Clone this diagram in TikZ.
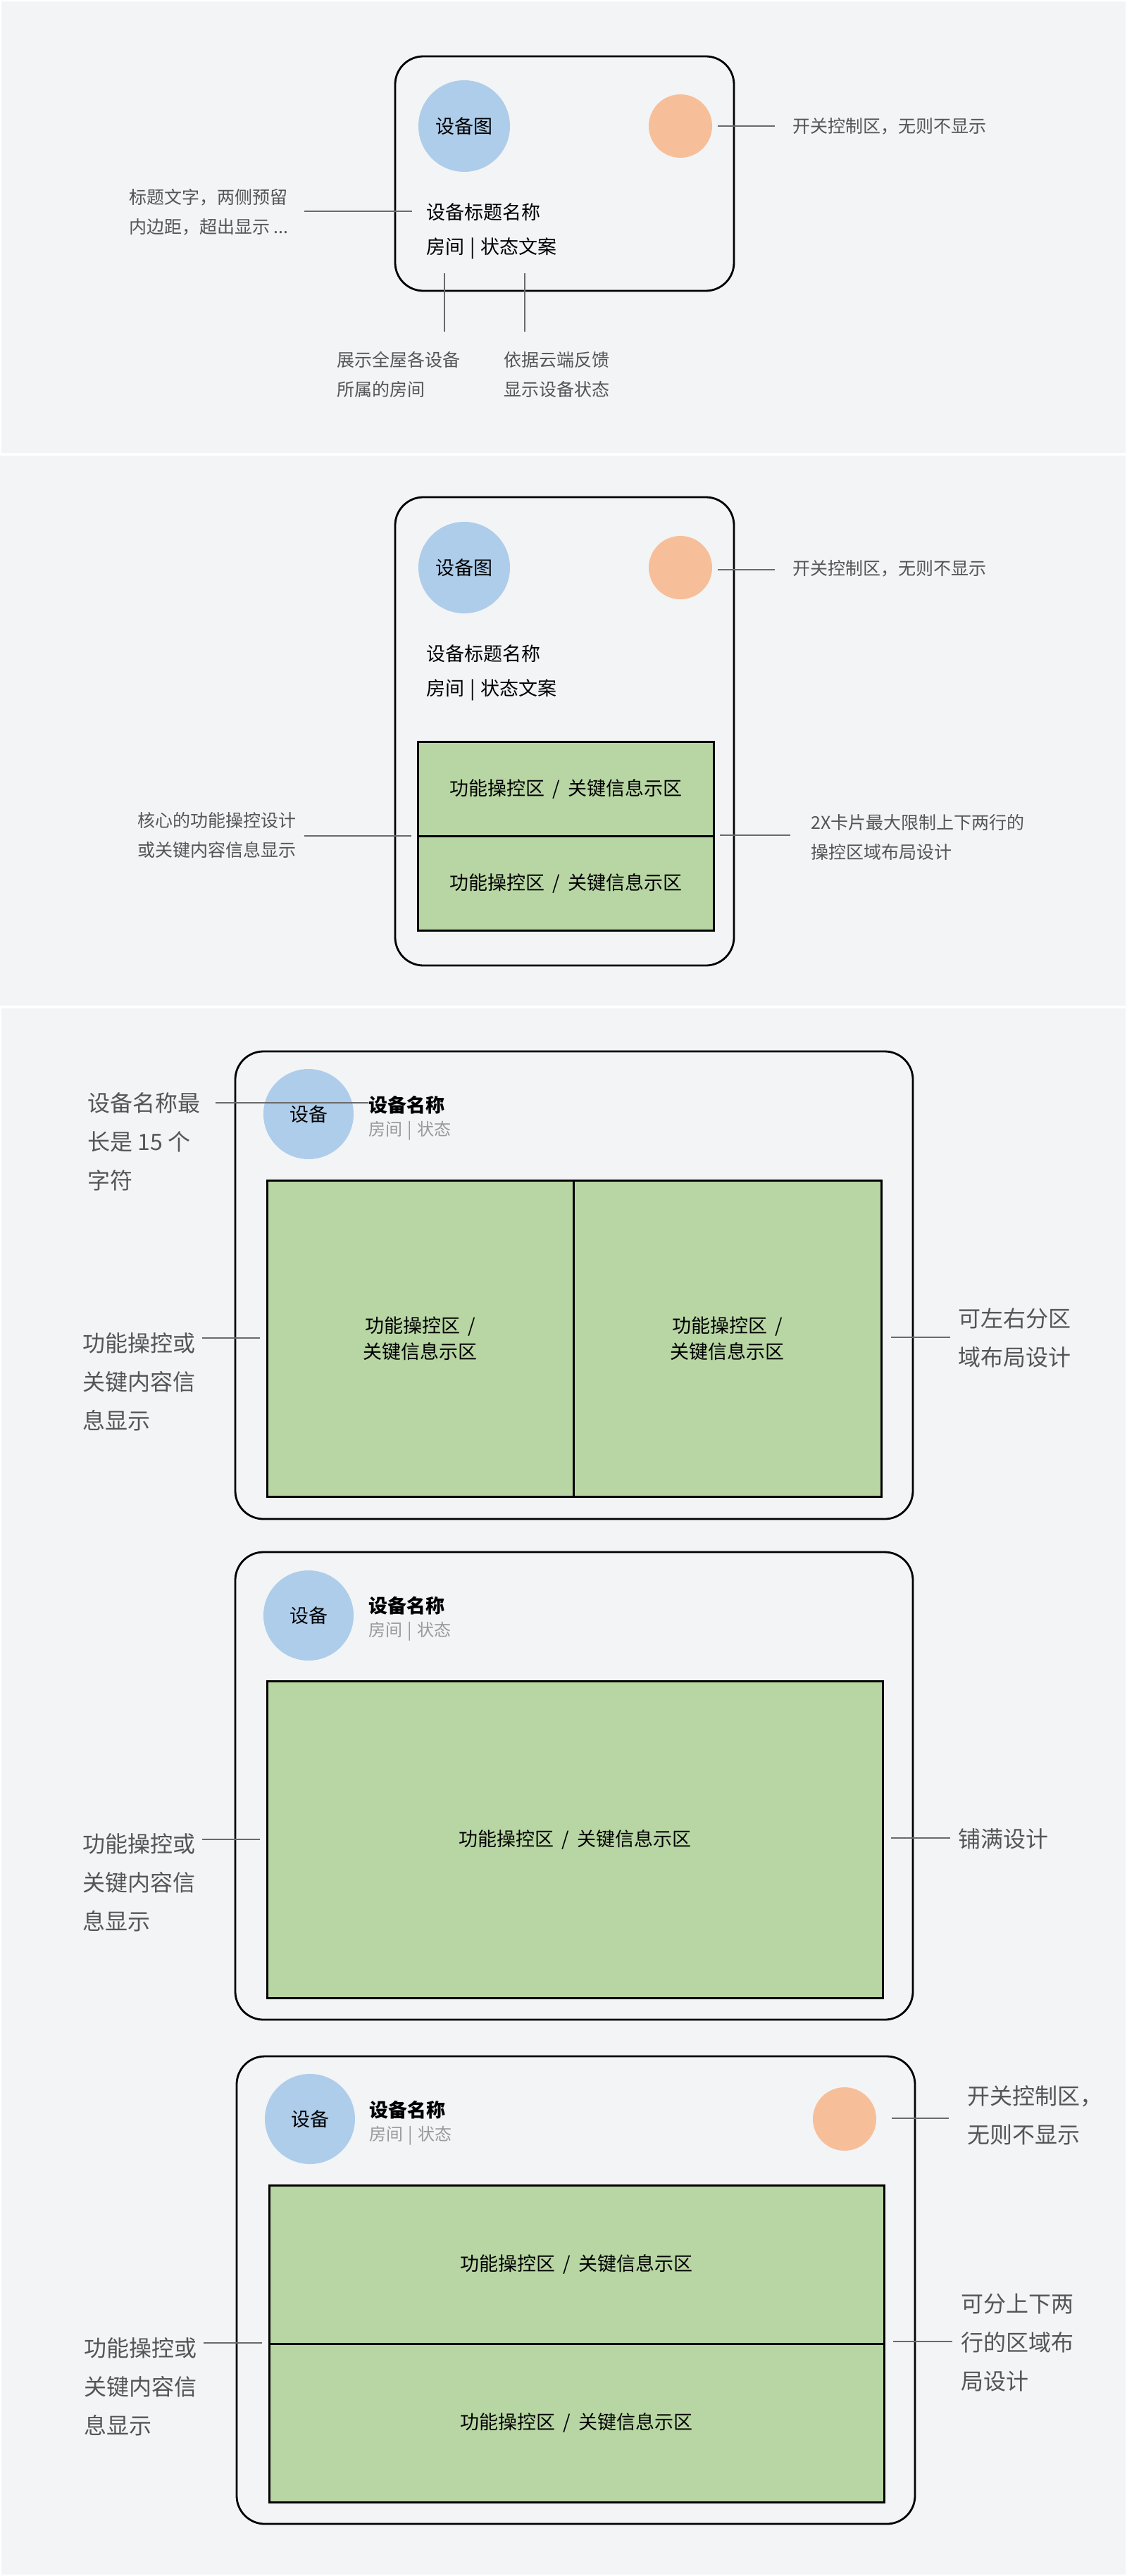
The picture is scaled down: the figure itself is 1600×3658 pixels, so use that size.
\documentclass[tikz,border=0pt]{standalone}
\usepackage{fontspec}
\newfontfamily\cjk{Noto Sans CJK SC}
\definecolor{bgc}{HTML}{F3F4F6}
\definecolor{bluec}{HTML}{AECDEA}
\definecolor{orangec}{HTML}{F7BF99}
\definecolor{greenc}{HTML}{B8D6A3}
\definecolor{annc}{HTML}{555555}
\definecolor{linec}{HTML}{6A6A6A}
\definecolor{subc}{HTML}{9A9A9A}
\newcommand{\mysls}{\hspace{0.42em}/\hspace{0.42em}}
\newcommand{\myvsep}{\hspace{0.3em}|\hspace{0.3em}}
\tikzset{
  card/.style={draw=black, line width=2.8pt, rounded corners=40pt},
  bluedot/.style={circle, fill=bluec, inner sep=0pt, minimum size=130pt, text=black, font=\cjk\fontsize{27}{32}\selectfont},
  smalldot/.style={circle, fill=bluec, inner sep=0pt, minimum size=128pt, text=black, font=\cjk\fontsize{27}{32}\selectfont},
  orangedot/.style={circle, fill=orangec, inner sep=0pt, minimum size=90pt},
  title/.style={anchor=west, inner sep=0pt, text=black, font=\cjk\fontsize{27}{32}\selectfont},
  btitle/.style={anchor=west, inner sep=0pt, text=black, font=\cjk\bfseries\fontsize{27}{32}\selectfont},
  subtitle/.style={anchor=west, inner sep=0pt, text=subc, font=\cjk\fontsize{24}{30}\selectfont},
  ann/.style={anchor=west, align=left, inner sep=0pt, text=annc, font=\cjk\fontsize{25}{42}\selectfont},
  bigann/.style={anchor=west, align=left, inner sep=0pt, text=annc, font=\cjk\fontsize{32}{55}\selectfont},
  annline/.style={draw=linec, line width=1.8pt},
  greenbox/.style={draw=black, fill=greenc, line width=2.6pt, anchor=north west, inner sep=0pt, align=center, text=black, font=\cjk\fontsize{27}{37}\selectfont},
}
\begin{document}
\begin{tikzpicture}[x=1pt,y=-1pt]
\useasboundingbox (0,0) rectangle (1600,3658);
\fill[white] (0,0) rectangle (1600,3658);
\fill[bgc] (2,2) rectangle (1598,643);
\fill[bgc] (0,647) rectangle (1598,1428);
\fill[bgc] (2,1432) rectangle (1598,3656);

% ===== Panel 1 =====
\draw[card] (561,80) rectangle (1042,413);
\node[bluedot] (p1dev) at (659,179) {设备图};
\node[orangedot] (p1sw) at (966,179) {};
\node[title] (p1title) at (605,301) {设备标题名称};
\node[title] (p1sub) at (605,353) {房间\myvsep 状态文案};
\node[ann] (p1swT) at (1125,179) {开关控制区，无则不显示};
\node[ann] (p1titleT) at (183,301) {标题文字，两侧预留\\内边距，超出显示 ...};
\node[ann] (p1roomT) at (478,532) {展示全屋各设备\\所属的房间};
\node[ann] (p1stateT) at (715,532) {依据云端反馈\\显示设备状态};
\coordinate (p1a1) at (1019,179); \coordinate (p1a2) at (1100,179);
\draw[annline] (p1a1) -- (p1a2);
\coordinate (p1b1) at (432,300); \coordinate (p1b2) at (585,300);
\draw[annline] (p1b1) -- (p1b2);
\coordinate (p1c1) at (631,388); \coordinate (p1c2) at (631,471);
\draw[annline] (p1c1) -- (p1c2);
\coordinate (p1d1) at (745,388); \coordinate (p1d2) at (745,471);
\draw[annline] (p1d1) -- (p1d2);

% ===== Panel 2 =====
\draw[card] (561,706) rectangle (1042,1371);
\node[bluedot] (p2dev) at (659,806) {设备图};
\node[orangedot] (p2sw) at (966,806) {};
\node[title] (p2title) at (605,928) {设备标题名称};
\node[title] (p2sub) at (605,980) {房间\myvsep 状态文案};
\node[greenbox, minimum width=420pt, minimum height=134pt] (p2g1) at (592,1052) {功能操控区\mysls 关键信息示区};
\node[greenbox, minimum width=420pt, minimum height=134pt] (p2g2) at (592,1186) {功能操控区\mysls 关键信息示区};
\node[ann] (p2swT) at (1125,807) {开关控制区，无则不显示};
\node[ann] (p2leftT) at (195,1186) {核心的功能操控设计\\或关键内容信息显示};
\node[ann] (p2rightT) at (1151,1189) {2X卡片最大限制上下两行的\\操控区域布局设计};
\coordinate (p2a1) at (1019,809); \coordinate (p2a2) at (1100,809);
\draw[annline] (p2a1) -- (p2a2);
\coordinate (p2b1) at (432,1187); \coordinate (p2b2) at (584,1187);
\draw[annline] (p2b1) -- (p2b2);
\coordinate (p2c1) at (1022,1186); \coordinate (p2c2) at (1122,1186);
\draw[annline] (p2c1) -- (p2c2);

% ===== Card 3-1 =====
\draw[card] (334,1493) rectangle (1296,2157);
\node[smalldot] (c1dev) at (438,1582) {设备};
\node[btitle] (c1title) at (523,1569) {设备名称};
\node[subtitle] (c1sub) at (523,1606) {房间\myvsep 状态};
\node[greenbox, minimum width=435pt, minimum height=449pt] (c1gL) at (378,1675) {功能操控区\hspace{0.42em}/\\关键信息示区};
\node[greenbox, minimum width=437pt, minimum height=449pt] (c1gR) at (813,1675) {功能操控区\hspace{0.42em}/\\关键信息示区};
\node[bigann] (c1nameT) at (124,1621) {设备名称最\\长是 15 个\\字符};
\node[bigann] (c1leftT) at (117,1962) {功能操控或\\关键内容信\\息显示};
\node[bigann] (c1rightT) at (1360,1900) {可左右分区\\域布局设计};
\coordinate (c1a1) at (306,1566); \coordinate (c1a2) at (523,1566);
\draw[annline] (c1a1) -- (c1a2);
\coordinate (c1b1) at (287,1900); \coordinate (c1b2) at (369,1900);
\draw[annline] (c1b1) -- (c1b2);
\coordinate (c1c1) at (1265,1899); \coordinate (c1c2) at (1349,1899);
\draw[annline] (c1c1) -- (c1c2);

% ===== Card 3-2 =====
\draw[card] (334,2204) rectangle (1296,2868);
\node[smalldot] (c2dev) at (438,2294) {设备};
\node[btitle] (c2title) at (523,2280) {设备名称};
\node[subtitle] (c2sub) at (523,2317) {房间\myvsep 状态};
\node[greenbox, minimum width=874pt, minimum height=450pt] (c2g) at (378,2386) {功能操控区\mysls 关键信息示区};
\node[bigann] (c2leftT) at (117,2673) {功能操控或\\关键内容信\\息显示};
\node[bigann] (c2rightT) at (1360,2611) {铺满设计};
\coordinate (c2b1) at (287,2612); \coordinate (c2b2) at (369,2612);
\draw[annline] (c2b1) -- (c2b2);
\coordinate (c2c1) at (1265,2610); \coordinate (c2c2) at (1349,2610);
\draw[annline] (c2c1) -- (c2c2);

% ===== Card 3-3 =====
\draw[card] (336,2920) rectangle (1299,3584);
\node[smalldot] (c3dev) at (440,3009) {设备};
\node[orangedot] (c3sw) at (1199,3009) {};
\node[btitle] (c3title) at (524,2996) {设备名称};
\node[subtitle] (c3sub) at (524,3033) {房间\myvsep 状态};
\node[greenbox, minimum width=873pt, minimum height=225pt] (c3g1) at (381,3102) {功能操控区\mysls 关键信息示区};
\node[greenbox, minimum width=873pt, minimum height=225pt] (c3g2) at (381,3327) {功能操控区\mysls 关键信息示区};
\node[bigann] (c3swT) at (1373,3004) {开关控制区，\\无则不显示};
\node[bigann] (c3leftT) at (119,3389) {功能操控或\\关键内容信\\息显示};
\node[bigann] (c3rightT) at (1364,3327) {可分上下两\\行的区域布\\局设计};
\coordinate (c3a1) at (1266,3008); \coordinate (c3a2) at (1347,3008);
\draw[annline] (c3a1) -- (c3a2);
\coordinate (c3b1) at (289,3327); \coordinate (c3b2) at (372,3327);
\draw[annline] (c3b1) -- (c3b2);
\coordinate (c3c1) at (1268,3325); \coordinate (c3c2) at (1352,3325);
\draw[annline] (c3c1) -- (c3c2);
\end{tikzpicture}
\end{document}
